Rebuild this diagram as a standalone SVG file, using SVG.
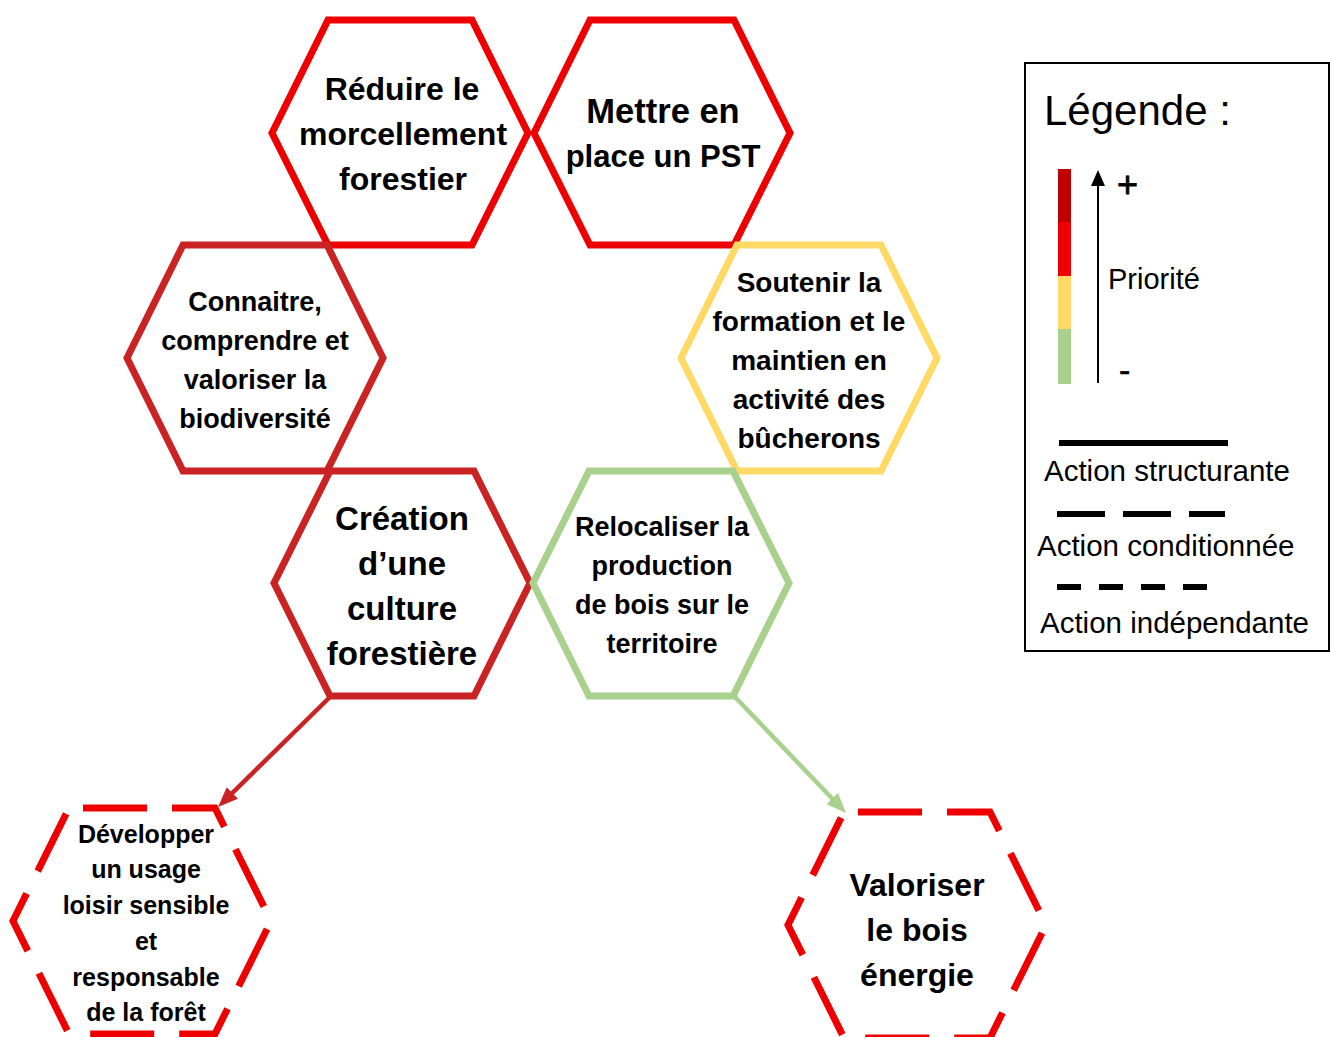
<svg xmlns="http://www.w3.org/2000/svg" width="1330" height="1037" viewBox="0 0 1330 1037">
<style>
.hex{fill:none;stroke-width:7;stroke-linejoin:miter}
.r1{stroke:#EE0000}
.r2{stroke:#C92323}
.ye{stroke:#FFD966}
.gr{stroke:#A9D18E}
.dash{stroke-dasharray:64 25;stroke-dashoffset:75}
.t{font-family:"Liberation Sans",Arial,sans-serif;font-weight:bold;fill:#000;text-anchor:middle}
.lg{font-family:"Liberation Sans",Arial,sans-serif;fill:#000}
.conn{fill:none;stroke-width:4.5}
</style>
<defs>
<marker id="ahR" markerUnits="userSpaceOnUse" markerWidth="20" markerHeight="16" refX="10" refY="8" orient="auto" viewBox="0 0 20 16">
<path d="M0,0 L20,8 L0,16 z" fill="#C92323"/>
</marker>
<marker id="ahG" markerUnits="userSpaceOnUse" markerWidth="20" markerHeight="16" refX="10" refY="8" orient="auto" viewBox="0 0 20 16">
<path d="M0,0 L20,8 L0,16 z" fill="#A9D18E"/>
</marker>
</defs>
<rect width="1330" height="1037" fill="#fff"/>

<g id="connectors">
<line class="conn" x1="330" y1="697" x2="225.2" y2="800" stroke="#C92323" marker-end="url(#ahR)"/>
<line class="conn" x1="735" y1="697" x2="839.1" y2="805.8" stroke="#A9D18E" marker-end="url(#ahG)"/>
</g>

<g id="hex-reduire">
<polygon class="hex r1" points="272,133 328,20 472,20 528,133 472,245 328,245"/>
<text class="t" font-size="32" x="402" y="100">Réduire le</text>
<text class="t" font-size="32" x="403" y="145">morcellement</text>
<text class="t" font-size="32" x="403" y="190">forestier</text>
</g>

<g id="hex-pst">
<polygon class="hex r1" points="534,133 590,20 734,20 790,133 734,245 590,245"/>
<text class="t" font-size="34.5" x="663" y="123">Mettre en</text>
<text class="t" font-size="31" x="663" y="167">place un PST</text>
</g>

<g id="hex-biodiversite">
<polygon class="hex r2" points="127,358 183,245 327,245 383,358 327,471 183,471"/>
<text class="t" font-size="27" x="255" y="311">Connaitre,</text>
<text class="t" font-size="27" x="255" y="350">comprendre et</text>
<text class="t" font-size="27" x="255" y="389">valoriser la</text>
<text class="t" font-size="27" x="255" y="428">biodiversité</text>
</g>

<g id="hex-bucherons">
<polygon class="hex ye" points="681,358 737,245 881,245 937,358 881,471 737,471"/>
<text class="t" font-size="28" x="809" y="292">Soutenir la</text>
<text class="t" font-size="28" x="809" y="331">formation et le</text>
<text class="t" font-size="28" x="809" y="370">maintien en</text>
<text class="t" font-size="28" x="809" y="409">activité des</text>
<text class="t" font-size="28" x="809" y="448">bûcherons</text>
</g>

<g id="hex-culture">
<polygon class="hex r2" points="274,583 330,471 474,471 530,583 474,696 330,696"/>
<text class="t" font-size="33" x="402" y="530">Création</text>
<text class="t" font-size="33" x="402" y="575">d’une</text>
<text class="t" font-size="33" x="402" y="620">culture</text>
<text class="t" font-size="33" x="402" y="665">forestière</text>
</g>

<g id="hex-relocaliser">
<polygon class="hex gr" points="533,583 589,471 733,471 789,583 733,696 589,696"/>
<text class="t" font-size="27" x="662" y="536">Relocaliser la</text>
<text class="t" font-size="27" x="662" y="575">production</text>
<text class="t" font-size="27" x="662" y="614">de bois sur le</text>
<text class="t" font-size="27" x="662" y="653">territoire</text>
</g>

<g id="hex-loisir">
<polygon class="hex r1 dash" points="69,808 215,808 271,921 215,1034 69,1034 13,921"/>
<text class="t" font-size="25" x="146" y="843">Développer</text>
<text class="t" font-size="25" x="146" y="878">un usage</text>
<text class="t" font-size="25" x="146" y="914">loisir sensible</text>
<text class="t" font-size="25" x="146" y="950">et</text>
<text class="t" font-size="25" x="146" y="986">responsable</text>
<text class="t" font-size="25" x="146" y="1021">de la forêt</text>
</g>

<g id="hex-bois-energie">
<polygon class="hex r1 dash" points="844,812 990,812 1046,925 990,1038 844,1038 788,925"/>
<text class="t" font-size="32" x="917" y="896">Valoriser</text>
<text class="t" font-size="32" x="917" y="941">le bois</text>
<text class="t" font-size="32" x="917" y="986">énergie</text>
</g>

<g id="legend">
<rect x="1025" y="63" width="304" height="588" fill="none" stroke="#000" stroke-width="2"/>
<text class="lg" font-size="42" x="1044" y="125">Légende :</text>
<rect x="1058" y="169" width="13" height="53" fill="#C00000"/>
<rect x="1058" y="222" width="13" height="54" fill="#EE0000"/>
<rect x="1058" y="276" width="13" height="53" fill="#FFD966"/>
<rect x="1058" y="329" width="13" height="55" fill="#A9D18E"/>
<line x1="1098" y1="383" x2="1098" y2="184" stroke="#000" stroke-width="2"/>
<polygon points="1091,186 1098,170 1105,186" fill="#000"/>
<text class="lg" font-size="36" x="1117" y="197" stroke="#000" stroke-width="0.8">+</text>
<text class="lg" font-size="29" x="1108" y="289">Priorité</text>
<text class="lg" font-size="34" x="1119" y="382" stroke="#000" stroke-width="0.6">-</text>
<line x1="1059" y1="443" x2="1228" y2="443" stroke="#000" stroke-width="6"/>
<text class="lg" font-size="29.5" x="1044" y="481">Action structurante</text>
<line x1="1057" y1="514" x2="1225" y2="514" stroke="#000" stroke-width="6" stroke-dasharray="48 18"/>
<text class="lg" font-size="29.5" x="1037" y="556">Action conditionnée</text>
<line x1="1057" y1="587" x2="1207" y2="587" stroke="#000" stroke-width="6" stroke-dasharray="24 18"/>
<text class="lg" font-size="29.5" x="1040" y="633">Action indépendante</text>
</g>
</svg>
